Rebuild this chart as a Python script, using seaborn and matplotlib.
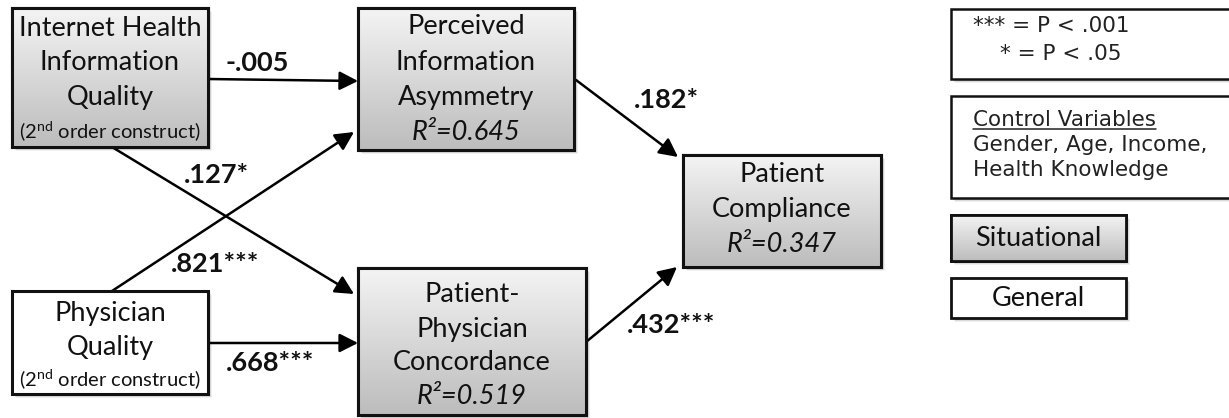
import numpy as np
import matplotlib
matplotlib.use("Agg")
import matplotlib.pyplot as plt
import seaborn as sns
from matplotlib.patches import Rectangle

# constructs of the research model
construct_lines = [
    ["Internet Health", "Information", "Quality"],
    ["Physician", "Quality"],
    ["Perceived", "Information", "Asymmetry"],
    ["Patient-", "Physician", "Concordance"],
    ["Patient", "Compliance"],
]
construct_note = ["(2$^{\\rm nd}$ order construct)", "(2$^{\\rm nd}$ order construct)", None, None, None]
r_squared = [None, None, 0.645, 0.519, 0.347]
construct_type = ["Situational", "General", "Situational", "Situational", "Situational"]

# structural paths
path_from = [0, 0, 1, 1, 2, 3]
path_to = [2, 3, 2, 3, 4, 4]
path_beta = [-0.005, 0.127, 0.821, 0.668, 0.182, 0.432]
path_stars = ["", "*", "***", "***", "*", "***"]

sig_lines = ["*** = P < .001", "* = P < .05"]
control_title = "Control Variables"
control_vars = ["Gender, Age, Income,", "Health Knowledge"]
legend_types = ["Situational", "General"]

# ---- layout (pixels, y down) ----
box_xy = [(12, 8, 208, 147), (12, 291, 208, 394), (358, 8, 574, 150),
          (358, 268, 586, 415), (683, 155, 881, 267)]
first_line = [28, 313, 27, 295, 175]
line_step = [35, 34, 35, 34, 35]
path_xy = [((208, 79), (358, 81)), ((112, 147), (354, 294)),
           ((112, 291), (354, 132)), ((208, 343), (358, 343)),
           ((576, 80), (678, 157)), ((586, 342), (677, 267))]
label_xy = [(257, 63), (216, 175), (215, 264), (270, 363), (666, 100), (671, 325)]

sns.set_theme(style="white")
plt.rcParams['font.family'] = ['Lato', 'DejaVu Sans']
plt.rcParams['mathtext.fontset'] = 'custom'
plt.rcParams['mathtext.rm'] = 'Lato'
plt.rcParams['mathtext.it'] = 'Lato:italic'

fig = plt.figure(figsize=(12.29, 4.18), dpi=100)
ax = fig.add_axes([0, 0, 1, 1])
ax.set_xlim(0, 1229)
ax.set_ylim(418, 0)
ax.axis("off")

grad = np.linspace(0, 1, 256).reshape(-1, 1)
gray_cmap = matplotlib.colors.LinearSegmentedColormap.from_list("g", ["#f4f4f4", "#bcbcbc"])


def draw_box(x0, y0, x1, y1, kind, lw=2.2):
    # soft shadow
    for k, a in [(4, 0.06), (3, 0.09), (2, 0.12)]:
        ax.add_patch(Rectangle((x0 + k, y0 + k), x1 - x0, y1 - y0, fc="black",
                               ec="none", alpha=a, zorder=1))
    rect = Rectangle((x0, y0), x1 - x0, y1 - y0, fc="white", ec="#111111", lw=lw, zorder=3)
    ax.add_patch(rect)
    if kind == "Situational":
        im = ax.imshow(grad, cmap=gray_cmap, extent=(x0, x1, y1, y0), aspect="auto",
                       zorder=3.5, interpolation="bilinear")
        im.set_clip_path(rect)
        ax.add_patch(Rectangle((x0, y0), x1 - x0, y1 - y0, fc="none", ec="#111111",
                               lw=lw, zorder=4))


for i, (x0, y0, x1, y1) in enumerate(box_xy):
    draw_box(x0, y0, x1, y1, construct_type[i])
    cx = (x0 + x1) / 2
    y = first_line[i]
    for line in construct_lines[i]:
        ax.text(cx, y, line, ha="center", va="center", fontsize=19.5, color="#111111", zorder=5)
        y += line_step[i]
    if construct_note[i]:
        ax.text(cx, y - 2, construct_note[i], ha="center", va="center", fontsize=14.5,
                color="#111111", zorder=5)
    if r_squared[i] is not None:
        ax.text(cx, y, f"R\u00b2={r_squared[i]:.3f}", ha="center", va="center", fontsize=19.5,
                style="italic", color="#111111", zorder=5)

for i in range(len(path_beta)):
    (sx, sy), (ex, ey) = path_xy[i]
    ax.annotate("", xy=(ex, ey), xytext=(sx, sy), zorder=2,
                arrowprops=dict(arrowstyle="-|>,head_length=0.75,head_width=0.38",
                                lw=1.8, color="black", mutation_scale=15,
                                shrinkA=0, shrinkB=0))
    lab = f"{path_beta[i]:.3f}".replace("0.", ".") + path_stars[i]
    ax.text(label_xy[i][0], label_xy[i][1], lab, ha="center", va="center",
            fontsize=19.5, fontweight="bold", color="#111111", zorder=5)

# legend boxes
legend_font = dict(fontsize=15.5, family="DejaVu Sans", color="#222222", zorder=5)
draw_box(951, 9, 1245, 79, "General", lw=1.8)
ax.text(973, 26, sig_lines[0], ha="left", va="center", **legend_font)
ax.text(1000, 54, sig_lines[1], ha="left", va="center", **legend_font)

draw_box(951, 96, 1245, 198, "General", lw=1.8)
t = ax.text(973, 120, control_title, ha="left", va="center", **legend_font)
for j, cv in enumerate(control_vars):
    ax.text(973, 145 + 25 * j, cv, ha="left", va="center", **legend_font)
fig.canvas.draw()
bb = t.get_window_extent().transformed(ax.transData.inverted())
ax.plot([bb.x0, bb.x1], [bb.y0 - 1, bb.y0 - 1], color="#222222", lw=1.1, zorder=5)

legend_y = [(215, 261), (278, 318)]
for kind, (y0, y1) in zip(legend_types, legend_y):
    draw_box(951, y0, 1126, y1, kind, lw=2.0)
    ax.text((951 + 1126) / 2, (y0 + y1) / 2, kind, ha="center", va="center",
            fontsize=19.5, color="#111111", zorder=5)

fig.savefig("out.png", dpi=100)
